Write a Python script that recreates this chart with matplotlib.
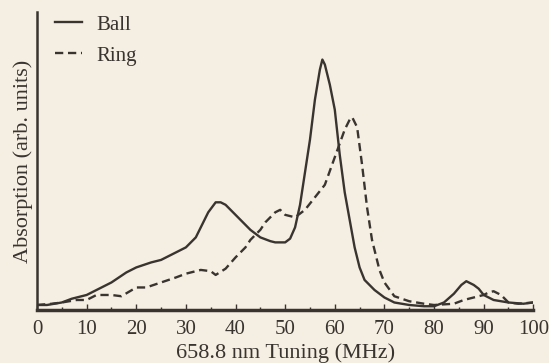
import matplotlib
matplotlib.use('Agg')
import matplotlib.pyplot as plt
import matplotlib.ticker as ticker

# -------------------------- data --------------------------
ball_x = [0, 2, 5, 7, 10, 12, 15, 18, 20, 23, 25, 28, 30, 32, 33, 34.5, 36, 37, 38, 40, 42, 43, 45, 47, 48,
          50, 51, 52, 53, 54, 55, 56, 57, 57.5, 58, 59, 60, 61, 62, 63, 64, 65, 66, 68, 70, 72, 75, 78,
          80, 82, 84, 85.5, 86.5, 88, 89, 90, 92, 95, 98, 100]
ball_y = [0.02, 0.02, 0.03, 0.045, 0.06, 0.08, 0.11, 0.15, 0.17, 0.19, 0.20, 0.23, 0.25, 0.29, 0.33, 0.39, 0.43, 0.43, 0.42,
          0.38, 0.34, 0.32, 0.29, 0.275, 0.27, 0.27, 0.285, 0.33, 0.42, 0.55, 0.68, 0.84, 0.96, 1.0, 0.98, 0.90,
          0.80, 0.62, 0.47, 0.36, 0.25, 0.17, 0.12, 0.08, 0.05, 0.03, 0.02, 0.015, 0.015, 0.03, 0.065,
          0.10, 0.115, 0.10, 0.085, 0.06, 0.04, 0.03, 0.025, 0.03]

ring_x = [0, 3, 5, 8, 10, 12, 15, 17, 20, 22, 25, 28, 30, 33, 35, 36, 38, 40, 42, 43, 45, 46, 47, 48, 49,
          50, 52, 54, 56, 58, 60, 62, 63, 63.5, 64.5, 65.5, 66.5, 67.5, 69, 70, 72, 75, 78, 80, 84,
          86, 88, 90, 91, 92, 93.5, 95, 97, 100]
ring_y = [0.02, 0.025, 0.03, 0.04, 0.04, 0.06, 0.06, 0.055, 0.09, 0.09, 0.11, 0.13, 0.145, 0.16, 0.155, 0.14, 0.165,
          0.21, 0.25, 0.28, 0.32, 0.35, 0.37, 0.39, 0.40, 0.38, 0.37, 0.40, 0.45, 0.50, 0.61, 0.72, 0.76,
          0.77, 0.73, 0.58, 0.41, 0.28, 0.16, 0.11, 0.055, 0.035, 0.025, 0.02, 0.025, 0.04, 0.05,
          0.06, 0.07, 0.075, 0.06, 0.03, 0.025, 0.03]

xticks = [0, 10, 20, 30, 40, 50, 60, 70, 80, 90, 100]

# -------------------------- drawing --------------------------
bg = '#f5eee2'
ink = '#3a3430'
plt.rcParams['font.family'] = ['Liberation Serif', 'DejaVu Serif']

fig = plt.figure(figsize=(5.49, 3.63), dpi=100, facecolor=bg)
ax = fig.add_axes([0.0674, 0.146, 0.904, 0.821], facecolor=bg)

ax.plot(ball_x, ball_y, color=ink, linewidth=1.7, label='Ball')
ax.plot(ring_x, ring_y, color=ink, linewidth=1.7, linestyle=(0, (3.5, 2)), label='Ring')

ax.set_xlim(0, 100)
ax.set_ylim(0, 1.19)
ax.set_xticks(xticks)
ax.xaxis.set_minor_locator(ticker.MultipleLocator(5))
ax.set_yticks([])
ax.tick_params(axis='x', which='major', direction='in', length=4, width=1, colors=ink, labelsize=15, pad=7)
ax.tick_params(axis='x', which='minor', direction='in', length=2, width=1, colors=ink)

ax.spines['top'].set_visible(False)
ax.spines['right'].set_visible(False)
ax.spines['bottom'].set_linewidth(2.5)
ax.spines['left'].set_linewidth(1.8)
ax.spines['bottom'].set_color(ink)
ax.spines['left'].set_color(ink)

ax.set_xlabel('658.8 nm Tuning (MHz)', fontsize=16, color=ink, labelpad=3)
ax.set_ylabel('Absorption (arb. units)', fontsize=16, color=ink, labelpad=3)

leg = ax.legend(loc='upper left', frameon=False, fontsize=15, handlelength=1.3, handletextpad=0.7,
                labelspacing=0.55, borderpad=0, borderaxespad=0, bbox_to_anchor=(0.036, 0.99))
for t in leg.get_texts():
    t.set_color(ink)

plt.savefig('out.png', dpi=100, facecolor=bg)
